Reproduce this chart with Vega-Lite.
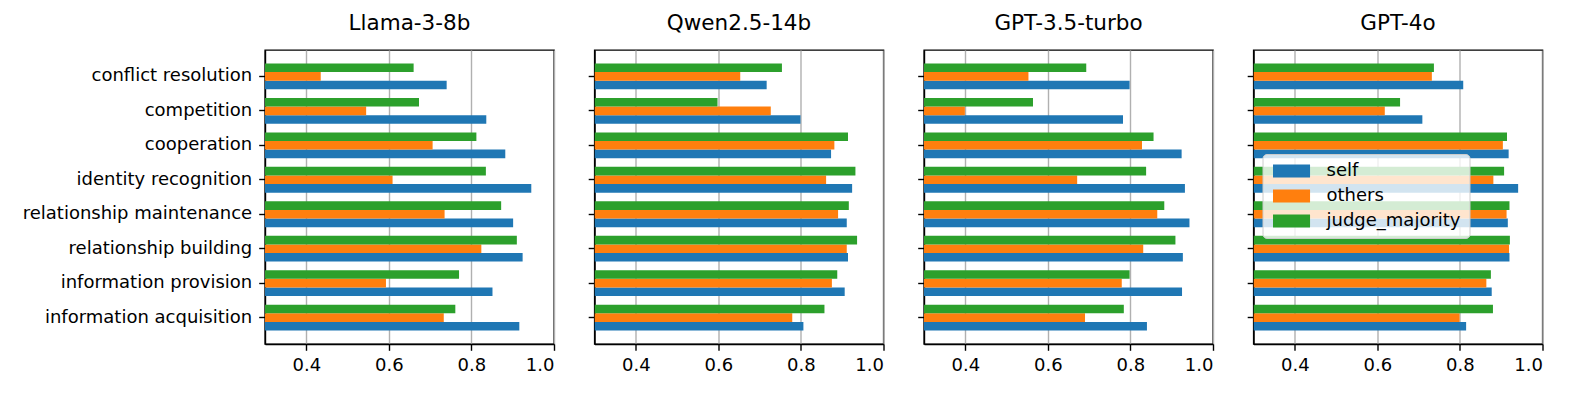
{
  "$schema": "https://vega.github.io/schema/vega-lite/v6.json",
  "padding": {"left": 21, "top": 11, "right": 5, "bottom": 5},
  "spacing": 40.5,
  "bounds": "flush",
  "config": {
    "font": "DejaVu Sans",
    "view": {"stroke": "#000", "strokeWidth": 1.4},
    "axis": {"domainColor": "#000", "domainWidth": 1.4, "tickColor": "#000", "tickWidth": 1.4, "tickSize": 6.3, "labelFontSize": 18, "labelColor": "#000", "labelPadding": 6, "labelLimit": 0, "gridColor": "#b0b0b0", "gridWidth": 1.4, "labelFont": "DejaVu Sans"},
    "axisY": {"grid": false, "labelPadding": 7},
    "title": {"fontSize": 21.5, "fontWeight": "normal", "color": "#000", "offset": 16, "baseline": "alphabetic", "font": "DejaVu Sans"}
  },
  "data": {"values": [
    {"model": "Llama-3-8b", "category": "conflict resolution", "series": "self", "value": 0.740},
    {"model": "Llama-3-8b", "category": "conflict resolution", "series": "others", "value": 0.435},
    {"model": "Llama-3-8b", "category": "conflict resolution", "series": "judge_majority", "value": 0.660},
    {"model": "Llama-3-8b", "category": "competition", "series": "self", "value": 0.836},
    {"model": "Llama-3-8b", "category": "competition", "series": "others", "value": 0.545},
    {"model": "Llama-3-8b", "category": "competition", "series": "judge_majority", "value": 0.673},
    {"model": "Llama-3-8b", "category": "cooperation", "series": "self", "value": 0.882},
    {"model": "Llama-3-8b", "category": "cooperation", "series": "others", "value": 0.706},
    {"model": "Llama-3-8b", "category": "cooperation", "series": "judge_majority", "value": 0.812},
    {"model": "Llama-3-8b", "category": "identity recognition", "series": "self", "value": 0.945},
    {"model": "Llama-3-8b", "category": "identity recognition", "series": "others", "value": 0.609},
    {"model": "Llama-3-8b", "category": "identity recognition", "series": "judge_majority", "value": 0.835},
    {"model": "Llama-3-8b", "category": "relationship maintenance", "series": "self", "value": 0.901},
    {"model": "Llama-3-8b", "category": "relationship maintenance", "series": "others", "value": 0.735},
    {"model": "Llama-3-8b", "category": "relationship maintenance", "series": "judge_majority", "value": 0.872},
    {"model": "Llama-3-8b", "category": "relationship building", "series": "self", "value": 0.924},
    {"model": "Llama-3-8b", "category": "relationship building", "series": "others", "value": 0.824},
    {"model": "Llama-3-8b", "category": "relationship building", "series": "judge_majority", "value": 0.910},
    {"model": "Llama-3-8b", "category": "information provision", "series": "self", "value": 0.851},
    {"model": "Llama-3-8b", "category": "information provision", "series": "others", "value": 0.593},
    {"model": "Llama-3-8b", "category": "information provision", "series": "judge_majority", "value": 0.770},
    {"model": "Llama-3-8b", "category": "information acquisition", "series": "self", "value": 0.916},
    {"model": "Llama-3-8b", "category": "information acquisition", "series": "others", "value": 0.733},
    {"model": "Llama-3-8b", "category": "information acquisition", "series": "judge_majority", "value": 0.761},

    {"model": "Qwen2.5-14b", "category": "conflict resolution", "series": "self", "value": 0.717},
    {"model": "Qwen2.5-14b", "category": "conflict resolution", "series": "others", "value": 0.653},
    {"model": "Qwen2.5-14b", "category": "conflict resolution", "series": "judge_majority", "value": 0.754},
    {"model": "Qwen2.5-14b", "category": "competition", "series": "self", "value": 0.799},
    {"model": "Qwen2.5-14b", "category": "competition", "series": "others", "value": 0.727},
    {"model": "Qwen2.5-14b", "category": "competition", "series": "judge_majority", "value": 0.598},
    {"model": "Qwen2.5-14b", "category": "cooperation", "series": "self", "value": 0.873},
    {"model": "Qwen2.5-14b", "category": "cooperation", "series": "others", "value": 0.881},
    {"model": "Qwen2.5-14b", "category": "cooperation", "series": "judge_majority", "value": 0.914},
    {"model": "Qwen2.5-14b", "category": "identity recognition", "series": "self", "value": 0.924},
    {"model": "Qwen2.5-14b", "category": "identity recognition", "series": "others", "value": 0.861},
    {"model": "Qwen2.5-14b", "category": "identity recognition", "series": "judge_majority", "value": 0.932},
    {"model": "Qwen2.5-14b", "category": "relationship maintenance", "series": "self", "value": 0.911},
    {"model": "Qwen2.5-14b", "category": "relationship maintenance", "series": "others", "value": 0.890},
    {"model": "Qwen2.5-14b", "category": "relationship maintenance", "series": "judge_majority", "value": 0.916},
    {"model": "Qwen2.5-14b", "category": "relationship building", "series": "self", "value": 0.914},
    {"model": "Qwen2.5-14b", "category": "relationship building", "series": "others", "value": 0.911},
    {"model": "Qwen2.5-14b", "category": "relationship building", "series": "judge_majority", "value": 0.936},
    {"model": "Qwen2.5-14b", "category": "information provision", "series": "self", "value": 0.906},
    {"model": "Qwen2.5-14b", "category": "information provision", "series": "others", "value": 0.875},
    {"model": "Qwen2.5-14b", "category": "information provision", "series": "judge_majority", "value": 0.888},
    {"model": "Qwen2.5-14b", "category": "information acquisition", "series": "self", "value": 0.806},
    {"model": "Qwen2.5-14b", "category": "information acquisition", "series": "others", "value": 0.779},
    {"model": "Qwen2.5-14b", "category": "information acquisition", "series": "judge_majority", "value": 0.857},

    {"model": "GPT-3.5-turbo", "category": "conflict resolution", "series": "self", "value": 0.798},
    {"model": "GPT-3.5-turbo", "category": "conflict resolution", "series": "others", "value": 0.553},
    {"model": "GPT-3.5-turbo", "category": "conflict resolution", "series": "judge_majority", "value": 0.693},
    {"model": "GPT-3.5-turbo", "category": "competition", "series": "self", "value": 0.782},
    {"model": "GPT-3.5-turbo", "category": "competition", "series": "others", "value": 0.399},
    {"model": "GPT-3.5-turbo", "category": "competition", "series": "judge_majority", "value": 0.564},
    {"model": "GPT-3.5-turbo", "category": "cooperation", "series": "self", "value": 0.924},
    {"model": "GPT-3.5-turbo", "category": "cooperation", "series": "others", "value": 0.828},
    {"model": "GPT-3.5-turbo", "category": "cooperation", "series": "judge_majority", "value": 0.856},
    {"model": "GPT-3.5-turbo", "category": "identity recognition", "series": "self", "value": 0.932},
    {"model": "GPT-3.5-turbo", "category": "identity recognition", "series": "others", "value": 0.671},
    {"model": "GPT-3.5-turbo", "category": "identity recognition", "series": "judge_majority", "value": 0.838},
    {"model": "GPT-3.5-turbo", "category": "relationship maintenance", "series": "self", "value": 0.943},
    {"model": "GPT-3.5-turbo", "category": "relationship maintenance", "series": "others", "value": 0.865},
    {"model": "GPT-3.5-turbo", "category": "relationship maintenance", "series": "judge_majority", "value": 0.882},
    {"model": "GPT-3.5-turbo", "category": "relationship building", "series": "self", "value": 0.927},
    {"model": "GPT-3.5-turbo", "category": "relationship building", "series": "others", "value": 0.831},
    {"model": "GPT-3.5-turbo", "category": "relationship building", "series": "judge_majority", "value": 0.909},
    {"model": "GPT-3.5-turbo", "category": "information provision", "series": "self", "value": 0.925},
    {"model": "GPT-3.5-turbo", "category": "information provision", "series": "others", "value": 0.779},
    {"model": "GPT-3.5-turbo", "category": "information provision", "series": "judge_majority", "value": 0.798},
    {"model": "GPT-3.5-turbo", "category": "information acquisition", "series": "self", "value": 0.840},
    {"model": "GPT-3.5-turbo", "category": "information acquisition", "series": "others", "value": 0.690},
    {"model": "GPT-3.5-turbo", "category": "information acquisition", "series": "judge_majority", "value": 0.784},

    {"model": "GPT-4o", "category": "conflict resolution", "series": "self", "value": 0.808},
    {"model": "GPT-4o", "category": "conflict resolution", "series": "others", "value": 0.732},
    {"model": "GPT-4o", "category": "conflict resolution", "series": "judge_majority", "value": 0.737},
    {"model": "GPT-4o", "category": "competition", "series": "self", "value": 0.709},
    {"model": "GPT-4o", "category": "competition", "series": "others", "value": 0.618},
    {"model": "GPT-4o", "category": "competition", "series": "judge_majority", "value": 0.655},
    {"model": "GPT-4o", "category": "cooperation", "series": "self", "value": 0.918},
    {"model": "GPT-4o", "category": "cooperation", "series": "others", "value": 0.904},
    {"model": "GPT-4o", "category": "cooperation", "series": "judge_majority", "value": 0.914},
    {"model": "GPT-4o", "category": "identity recognition", "series": "self", "value": 0.941},
    {"model": "GPT-4o", "category": "identity recognition", "series": "others", "value": 0.881},
    {"model": "GPT-4o", "category": "identity recognition", "series": "judge_majority", "value": 0.907},
    {"model": "GPT-4o", "category": "relationship maintenance", "series": "self", "value": 0.916},
    {"model": "GPT-4o", "category": "relationship maintenance", "series": "others", "value": 0.913},
    {"model": "GPT-4o", "category": "relationship maintenance", "series": "judge_majority", "value": 0.920},
    {"model": "GPT-4o", "category": "relationship building", "series": "self", "value": 0.920},
    {"model": "GPT-4o", "category": "relationship building", "series": "others", "value": 0.919},
    {"model": "GPT-4o", "category": "relationship building", "series": "judge_majority", "value": 0.921},
    {"model": "GPT-4o", "category": "information provision", "series": "self", "value": 0.877},
    {"model": "GPT-4o", "category": "information provision", "series": "others", "value": 0.864},
    {"model": "GPT-4o", "category": "information provision", "series": "judge_majority", "value": 0.875},
    {"model": "GPT-4o", "category": "information acquisition", "series": "self", "value": 0.815},
    {"model": "GPT-4o", "category": "information acquisition", "series": "others", "value": 0.799},
    {"model": "GPT-4o", "category": "information acquisition", "series": "judge_majority", "value": 0.880}
  ]},
  "resolve": {"scale": {"color": "independent", "x": "independent", "y": "independent"}, "legend": {"color": "independent"}},
  "hconcat": [
    {
      "width": 289, "height": 294, "title": "Llama-3-8b",
      "transform": [{"filter": "datum.model === 'Llama-3-8b'"}],
      "mark": {"type": "bar", "clip": true},
      "encoding": {
        "y": {"field": "category", "type": "nominal", "sort": ["conflict resolution","competition","cooperation","identity recognition","relationship maintenance","relationship building","information provision","information acquisition"], "scale": {"paddingInner": 0.25, "paddingOuter": 0.39}, "axis": {"title": null, "labels": true}},
        "yOffset": {"field": "series", "type": "nominal", "sort": ["judge_majority","others","self"], "scale": {"paddingInner": 0, "paddingOuter": 0}},
        "x": {"field": "value", "type": "quantitative", "stack": null, "scale": {"domain": [0.3, 1.0], "nice": false, "zero": false}, "axis": {"values": [0.4, 0.6, 0.8, 1.0], "format": ".1f", "title": null, "grid": true}},
        "color": {"field": "series", "type": "nominal", "scale": {"domain": ["self","others","judge_majority"], "range": ["#1f77b4","#ff7f0e","#2ca02c"]}, "legend": null}
      }
    },
    {
      "width": 289, "height": 294, "title": "Qwen2.5-14b",
      "transform": [{"filter": "datum.model === 'Qwen2.5-14b'"}],
      "mark": {"type": "bar", "clip": true},
      "encoding": {
        "y": {"field": "category", "type": "nominal", "sort": ["conflict resolution","competition","cooperation","identity recognition","relationship maintenance","relationship building","information provision","information acquisition"], "scale": {"paddingInner": 0.25, "paddingOuter": 0.39}, "axis": {"title": null, "labels": false}},
        "yOffset": {"field": "series", "type": "nominal", "sort": ["judge_majority","others","self"], "scale": {"paddingInner": 0, "paddingOuter": 0}},
        "x": {"field": "value", "type": "quantitative", "stack": null, "scale": {"domain": [0.3, 1.0], "nice": false, "zero": false}, "axis": {"values": [0.4, 0.6, 0.8, 1.0], "format": ".1f", "title": null, "grid": true}},
        "color": {"field": "series", "type": "nominal", "scale": {"domain": ["self","others","judge_majority"], "range": ["#1f77b4","#ff7f0e","#2ca02c"]}, "legend": null}
      }
    },
    {
      "width": 289, "height": 294, "title": "GPT-3.5-turbo",
      "transform": [{"filter": "datum.model === 'GPT-3.5-turbo'"}],
      "mark": {"type": "bar", "clip": true},
      "encoding": {
        "y": {"field": "category", "type": "nominal", "sort": ["conflict resolution","competition","cooperation","identity recognition","relationship maintenance","relationship building","information provision","information acquisition"], "scale": {"paddingInner": 0.25, "paddingOuter": 0.39}, "axis": {"title": null, "labels": false}},
        "yOffset": {"field": "series", "type": "nominal", "sort": ["judge_majority","others","self"], "scale": {"paddingInner": 0, "paddingOuter": 0}},
        "x": {"field": "value", "type": "quantitative", "stack": null, "scale": {"domain": [0.3, 1.0], "nice": false, "zero": false}, "axis": {"values": [0.4, 0.6, 0.8, 1.0], "format": ".1f", "title": null, "grid": true}},
        "color": {"field": "series", "type": "nominal", "scale": {"domain": ["self","others","judge_majority"], "range": ["#1f77b4","#ff7f0e","#2ca02c"]}, "legend": null}
      }
    },
    {
      "width": 289, "height": 294, "title": "GPT-4o",
      "transform": [{"filter": "datum.model === 'GPT-4o'"}],
      "mark": {"type": "bar", "clip": true},
      "encoding": {
        "y": {"field": "category", "type": "nominal", "sort": ["conflict resolution","competition","cooperation","identity recognition","relationship maintenance","relationship building","information provision","information acquisition"], "scale": {"paddingInner": 0.25, "paddingOuter": 0.39}, "axis": {"title": null, "labels": false}},
        "yOffset": {"field": "series", "type": "nominal", "sort": ["judge_majority","others","self"], "scale": {"paddingInner": 0, "paddingOuter": 0}},
        "x": {"field": "value", "type": "quantitative", "stack": null, "scale": {"domain": [0.3, 1.0], "nice": false, "zero": false}, "axis": {"values": [0.4, 0.6, 0.8, 1.0], "format": ".1f", "title": null, "grid": true}},
        "color": {"field": "series", "type": "nominal", "scale": {"domain": ["self","others","judge_majority"], "range": ["#1f77b4","#ff7f0e","#2ca02c"]},
          "legend": {"orient": "none", "legendX": 9, "legendY": 104, "title": null, "fillColor": "rgba(255,255,255,0.8)", "strokeColor": "#cccccc", "cornerRadius": 4, "padding": 8, "symbolType": "M-1,-1H4.7V1H-1Z", "symbolSize": 169, "symbolStrokeWidth": 0, "symbolOpacity": 1, "labelFontSize": 18, "labelOffset": 38, "rowPadding": 7, "labelColor": "#000", "labelFont": "DejaVu Sans"}}
      }
    }
  ]
}
